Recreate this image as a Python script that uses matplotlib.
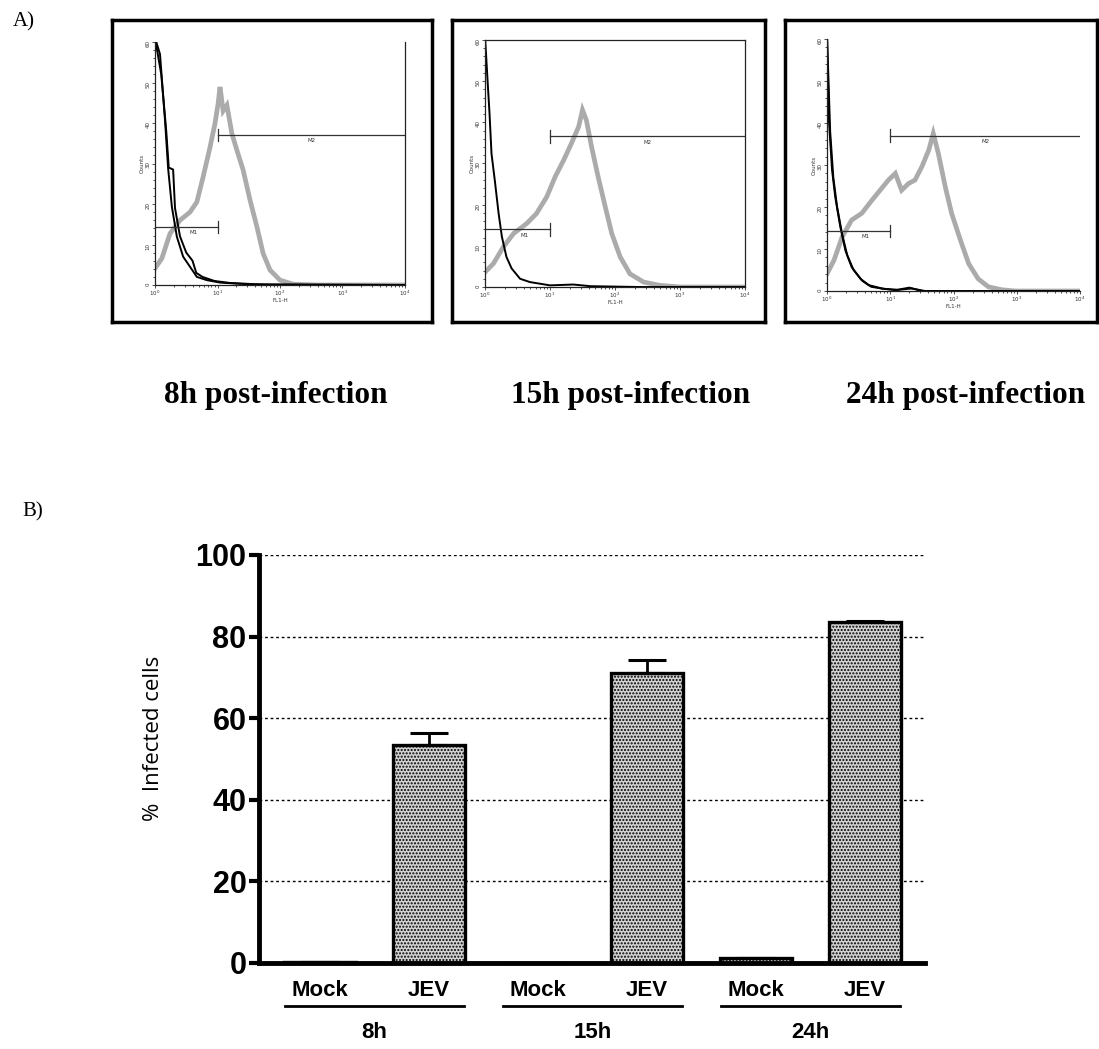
import matplotlib.pyplot as plt
import numpy as np
from matplotlib.ticker import MultipleLocator

W, H = 1099, 1049

# ---- panel A data (x in log10 of FL1-H, y in counts) ----
p1_mock_a_x = [0.0, 0.08, 0.16, 0.21, 0.27, 0.35, 0.45, 0.56, 0.67, 0.83, 1.04, 1.36, 1.79, 4.0]
p1_mock_a_y = [61, 57, 40.7, 28.8, 19.3, 11.9, 7.0, 4.5, 2.0, 1.2, 0.6, 0.3, 0.0, 0.0]
p1_mock_b_x = [0.0, 0.10, 0.18, 0.22, 0.29, 0.32, 0.40, 0.50, 0.60, 0.66, 0.76, 0.95, 1.2, 1.6, 4.0]
p1_mock_b_y = [61, 52, 38, 29, 28.5, 19, 12, 8, 6, 3, 2, 1.0, 0.5, 0.2, 0.0]
p1_jev_x = [0.0, 0.11, 0.24, 0.40, 0.56, 0.67, 0.77, 0.88, 0.96, 1.01, 1.04, 1.09, 1.15,
            1.23, 1.31, 1.41, 1.52, 1.63, 1.73, 1.84, 2.0, 2.21, 2.59, 4.0]
p1_jev_y = [4.1, 6.6, 12.7, 16.0, 18.0, 20.5, 26.7, 34.0, 39.9, 44.8, 48.9, 43.0, 44.4,
            37.4, 33.3, 28.4, 21.0, 14.4, 7.8, 3.7, 1.2, 0.2, 0.0, 0.0]

p2_mock_x = [0.0, 0.03, 0.07, 0.10, 0.15, 0.21, 0.26, 0.33, 0.41, 0.54, 0.69, 1.0, 1.36, 1.62, 2.38, 4.0]
p2_mock_y = [61, 52.7, 42.0, 32.4, 26.0, 17.8, 12.2, 7.3, 4.5, 2.0, 1.2, 0.4, 0.6, 0.2, 0.0, 0.0]
p2_jev_x = [0.0, 0.13, 0.28, 0.44, 0.64, 0.79, 0.95, 1.08, 1.21, 1.33, 1.44, 1.50, 1.56,
            1.64, 1.74, 1.85, 1.95, 2.08, 2.23, 2.44, 2.69, 3.0, 4.0]
p2_jev_y = [3.6, 5.7, 9.7, 13.0, 15.4, 17.8, 21.9, 26.8, 30.8, 34.9, 38.9, 43.0, 40.5,
            34.0, 26.8, 19.5, 13.0, 7.3, 3.2, 1.2, 0.4, 0.0, 0.0]

p3_mock_a_x = [0.0, 0.03, 0.08, 0.13, 0.21, 0.29, 0.39, 0.53, 0.66, 0.87, 1.08, 1.34, 1.55, 4.0]
p3_mock_a_y = [61, 40.7, 28.8, 22.4, 15.3, 9.7, 5.7, 2.9, 1.4, 0.6, 0.2, 0.6, 0.0, 0.0]
p3_mock_b_x = [0.0, 0.05, 0.10, 0.16, 0.24, 0.32, 0.42, 0.56, 0.70, 0.90, 1.12, 1.30, 1.5, 4.0]
p3_mock_b_y = [61, 38, 27, 20, 13.5, 8.5, 5.0, 2.4, 1.0, 0.5, 0.3, 0.8, 0.0, 0.0]
p3_jev_x = [0.0, 0.11, 0.24, 0.39, 0.55, 0.71, 0.84, 0.97, 1.08, 1.18, 1.29, 1.39, 1.50,
            1.61, 1.68, 1.76, 1.87, 1.97, 2.11, 2.24, 2.39, 2.55, 2.76, 2.97, 4.0]
p3_jev_y = [4.1, 7.3, 12.9, 16.9, 18.5, 21.6, 24.0, 26.4, 28.0, 24.0, 25.6, 26.4, 29.6,
            33.6, 37.5, 32.8, 24.8, 18.5, 12.1, 6.5, 2.9, 1.0, 0.3, 0.0, 0.0]

m1_levels = [14.4, 14.0, 14.3]
m2_levels = [37.0, 36.6, 37.0]
panel_titles = ['8h post-infection', '15h post-infection', '24h post-infection']

# ---- panel B data ----
bar_labels = ['Mock', 'JEV', 'Mock', 'JEV', 'Mock', 'JEV']
bar_values = [0.3, 53.4, 0.0, 71.1, 1.3, 83.6]
bar_errors = [0.0, 3.0, 0.0, 3.2, 0.0, 0.3]
group_labels = ['8h', '15h', '24h']


def px_axes(x0, y0, x1, y1):
    return fig.add_axes([x0 / W, 1 - y1 / H, (x1 - x0) / W, (y1 - y0) / H])


fig = plt.figure(figsize=(W / 100, H / 100), dpi=100)

frames = [(112, 20, 432, 322), (452, 20, 765, 322), (785, 20, 1097, 322)]
inner = [(155, 42, 405, 285), (485, 40, 745, 287), (827, 39, 1080, 291)]
curves = [
    ([(p1_mock_a_x, p1_mock_a_y), (p1_mock_b_x, p1_mock_b_y)], (p1_jev_x, p1_jev_y)),
    ([(p2_mock_x, p2_mock_y)], (p2_jev_x, p2_jev_y)),
    ([(p3_mock_a_x, p3_mock_a_y), (p3_mock_b_x, p3_mock_b_y)], (p3_jev_x, p3_jev_y)),
]
title_x = [276, 631, 966]

for i in range(3):
    fr = px_axes(*frames[i])
    fr.set_xticks([])
    fr.set_yticks([])
    for s in fr.spines.values():
        s.set_linewidth(2.5)

    ax = px_axes(*inner[i])
    ax.set_xscale('log')
    ax.set_xlim(1, 1e4)
    ax.set_ylim(0, 60)
    mocks, jev = curves[i]
    ax.plot(10 ** np.array(jev[0]), jev[1], color='#ababab', lw=3.4, solid_joinstyle='miter')
    for mx, my in mocks:
        ax.plot(10 ** np.array(mx), my, color='black', lw=1.4)

    # M1 / M2 gates
    ax.plot([1, 10], [m1_levels[i]] * 2, color='#333333', lw=0.9)
    ax.plot([10, 10], [m1_levels[i] - 1.5, m1_levels[i] + 1.5], color='#333333', lw=0.9)
    ax.text(10 ** 0.55, m1_levels[i] - 0.8, 'M1', fontsize=4, va='top', ha='left', color='#333333')
    ax.plot([10, 1e4], [m2_levels[i]] * 2, color='#333333', lw=0.9)
    ax.plot([10, 10], [m2_levels[i] - 1.5, m2_levels[i] + 1.5], color='#333333', lw=0.9)
    ax.text(10 ** 2.5, m2_levels[i] - 0.8, 'M2', fontsize=4, va='top', ha='center', color='#333333')

    for s in ['top', 'right']:
        ax.spines[s].set_visible(False)
    if i == 0:
        ax.spines['right'].set_visible(True)
    if i == 1:
        ax.spines['right'].set_visible(True)
        ax.spines['top'].set_visible(True)
    for s in ax.spines.values():
        s.set_linewidth(0.9)
        s.set_color('#222222')
    ax.yaxis.set_major_locator(MultipleLocator(10))
    ax.yaxis.set_minor_locator(MultipleLocator(2))
    ax.tick_params(which='both', labelsize=4, length=2, width=0.6, pad=1, colors='#333333')
    ax.tick_params(which='minor', length=1.2)
    ax.tick_params(axis='y', labelrotation=90)
    ax.set_ylabel('Counts', fontsize=4, labelpad=1, color='#333333')
    ax.set_xlabel('FL1-H', fontsize=4, labelpad=0, color='#333333')
    ax.patch.set_alpha(0)

    fig.text(title_x[i] / W, 1 - 395 / H, panel_titles[i], family='Liberation Serif',
             weight='bold', fontsize=22.5, ha='center', va='center')

fig.text(13 / W, 1 - 22 / H, 'A)', family='Liberation Serif', fontsize=15, ha='left', va='center')
fig.text(22 / W, 1 - 512 / H, 'B)', family='Liberation Serif', fontsize=15, ha='left', va='center')

# ---- panel B ----
sans = ['Liberation Sans', 'DejaVu Sans']
bx = px_axes(259, 555, 925, 963)
pos = np.arange(len(bar_values))
bx.bar(pos, bar_values, width=0.66, color='#d2d2d2', edgecolor='black', linewidth=2.4,
       hatch='.....', zorder=3)
bx.errorbar(pos, bar_values, yerr=[[0] * len(bar_errors), bar_errors], fmt='none',
            ecolor='black', elinewidth=2, capsize=14, capthick=2.2, zorder=2)
bx.set_xlim(-0.56, 5.55)
bx.set_ylim(0, 100)
bx.set_yticks([0, 20, 40, 60, 80, 100])
bx.yaxis.grid(True, linestyle=(0, (2, 2)), color='black', linewidth=1)
bx.set_axisbelow(True)
for s in ['top', 'right']:
    bx.spines[s].set_visible(False)
bx.spines['left'].set_linewidth(3.5)
bx.spines['bottom'].set_linewidth(3.5)
bx.spines['bottom'].set_zorder(5)
bx.tick_params(axis='y', length=7, width=3, pad=2)
bx.tick_params(axis='x', length=0, pad=12)
bx.set_xticks(pos)
bx.set_xticklabels(bar_labels, family=sans, weight='bold', fontsize=16)
for t in bx.get_yticklabels():
    t.set_family(sans)
    t.set_weight('bold')
    t.set_fontsize(22)
bx.set_ylabel('%  Infected cells', family='Open Sans', fontsize=16)
bx.yaxis.set_label_coords(-0.143, 0.55)

for g in range(3):
    c = 2 * g + 0.5
    bx.plot([c - 0.82, c + 0.82], [-0.105, -0.105], color='black', lw=2,
            transform=bx.get_xaxis_transform(), clip_on=False)
    bx.text(c, -0.17, group_labels[g], transform=bx.get_xaxis_transform(), ha='center',
            va='center', family=sans, weight='bold', fontsize=16)

fig.savefig('out.png', dpi=100)
